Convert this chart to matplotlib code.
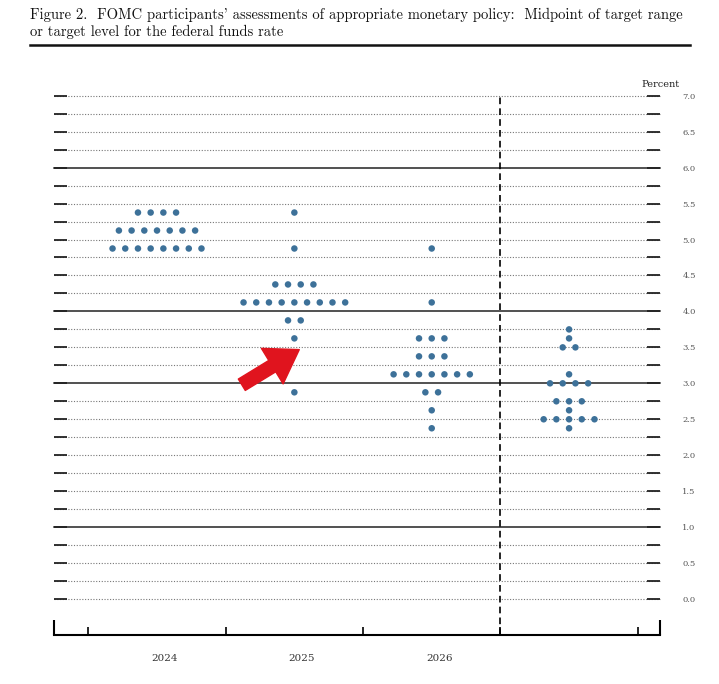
import numpy as np
import matplotlib
matplotlib.use("Agg")
import matplotlib.pyplot as plt
from matplotlib.lines import Line2D
from matplotlib.patches import FancyArrowPatch

# ---- data ----
categories = ["2024", "2025", "2026", "Longer run"]
year_labels = ["2024", "2025", "2026"]
rates_2024 = [5.375, 5.125, 4.875]
counts_2024 = [4, 7, 8]
rates_2025 = [5.375, 4.875, 4.375, 4.125, 3.875, 3.625, 2.875]
counts_2025 = [1, 1, 4, 9, 2, 1, 1]
rates_2026 = [4.875, 4.125, 3.625, 3.375, 3.125, 2.875, 2.625, 2.375]
counts_2026 = [1, 1, 3, 3, 7, 2, 1, 1]
rates_lr = [3.75, 3.625, 3.5, 3.125, 3.0, 2.75, 2.625, 2.5, 2.375]
counts_lr = [1, 1, 2, 1, 4, 3, 1, 5, 1]
grid_levels = np.arange(0, 7.001, 0.25)
solid_levels = [1.0, 3.0, 4.0, 6.0]

groups = [(rates_2024, counts_2024), (rates_2025, counts_2025),
          (rates_2026, counts_2026), (rates_lr, counts_lr)]

W, H = 719, 684
fig = plt.figure(figsize=(W / 100, H / 100), dpi=100)
fig.patch.set_facecolor("white")

ax = fig.add_axes([54 / W, 1 - 635 / H, 606 / W, (635 - 95.7) / H])
ax.set_xlim(-0.75, 3.662)
ax.set_ylim(-0.5, 7.0)

# gridlines
for lv in grid_levels:
    if any(abs(lv - s) < 1e-9 for s in solid_levels):
        ax.axhline(lv, color="#222222", lw=1.1, zorder=1, clip_on=False)
    else:
        ax.axhline(lv, color="#777777", lw=0.8, ls=(0, (1, 1.5)), zorder=1, clip_on=False)

# dashed separator
ax.plot([2.5, 2.5], [-0.5, 7.0], color="black", lw=1.2, ls=(0, (4, 2.5)), zorder=2, clip_on=False)

# dots
step = 0.0925
for i, (rates, counts) in enumerate(groups):
    xs, ys = [], []
    for r, c in zip(rates, counts):
        for k in range(c):
            xs.append(i + (k - (c - 1) / 2) * step)
            ys.append(r)
    ax.scatter(xs, ys, s=22, color="#3d7199", edgecolors="none", zorder=4)

# axes styling
for side in ["left", "right", "top"]:
    ax.spines[side].set_visible(False)
ax.spines["bottom"].set_linewidth(1.5)
ax.spines["bottom"].set_color("black")

ax.set_yticks(grid_levels)
ax.set_yticklabels([f"{v:.1f}" if abs(v * 2 - round(v * 2)) < 1e-9 else "" for v in grid_levels])
ax.tick_params(axis="y", which="major", direction="in", length=9.4, width=1.3,
               left=True, right=True, labelleft=False, labelright=True,
               pad=16, labelsize=6, labelcolor="#555555", color="#222222")
for t in ax.get_yticklabels():
    t.set_family("DejaVu Serif")

ax.set_xticks([-0.5, 0.5, 1.5, 2.5, 3.5])
ax.set_xticklabels([])
ax.set_xticks([-0.75, 3.662], minor=True)
ax.tick_params(axis="x", which="major", direction="in", length=5.8, width=1.2, color="black")
ax.tick_params(axis="x", which="minor", direction="in", length=10.8, width=1.5, color="black")

for i, lab in enumerate(year_labels):
    ax.text(i + 0.055, -0.82, lab, ha="center", va="center", fontsize=7.5,
            family="DejaVu Serif", color="#333333", clip_on=False)

ax.text(3.662, 7.15, "Percent", ha="center", va="center", fontsize=7,
        family="DejaVu Serif", color="#222222", clip_on=False)

# red arrow annotation
arrow = FancyArrowPatch((0.60, 2.96), (1.053, 3.489),
                        arrowstyle="simple,head_length=1.9,head_width=2.5,tail_width=0.8",
                        mutation_scale=12, color="#e0141e", zorder=6, clip_on=False,
                        capstyle="round", joinstyle="round")
ax.add_patch(arrow)

# title
fig.text(30 / W, 1 - 8 / H,
         "Figure 2.  FOMC participants' assessments of appropriate monetary policy:  Midpoint of target range\n"
         "or target level for the federal funds rate",
         ha="left", va="top", fontsize=10.5, family="cmr10", color="#111111", linespacing=1.2)
fig.add_artist(Line2D([30 / W, 690 / W], [1 - 45 / H, 1 - 45 / H], color="#111111", lw=1.8))

fig.savefig("out.png", dpi=100, facecolor="white")
